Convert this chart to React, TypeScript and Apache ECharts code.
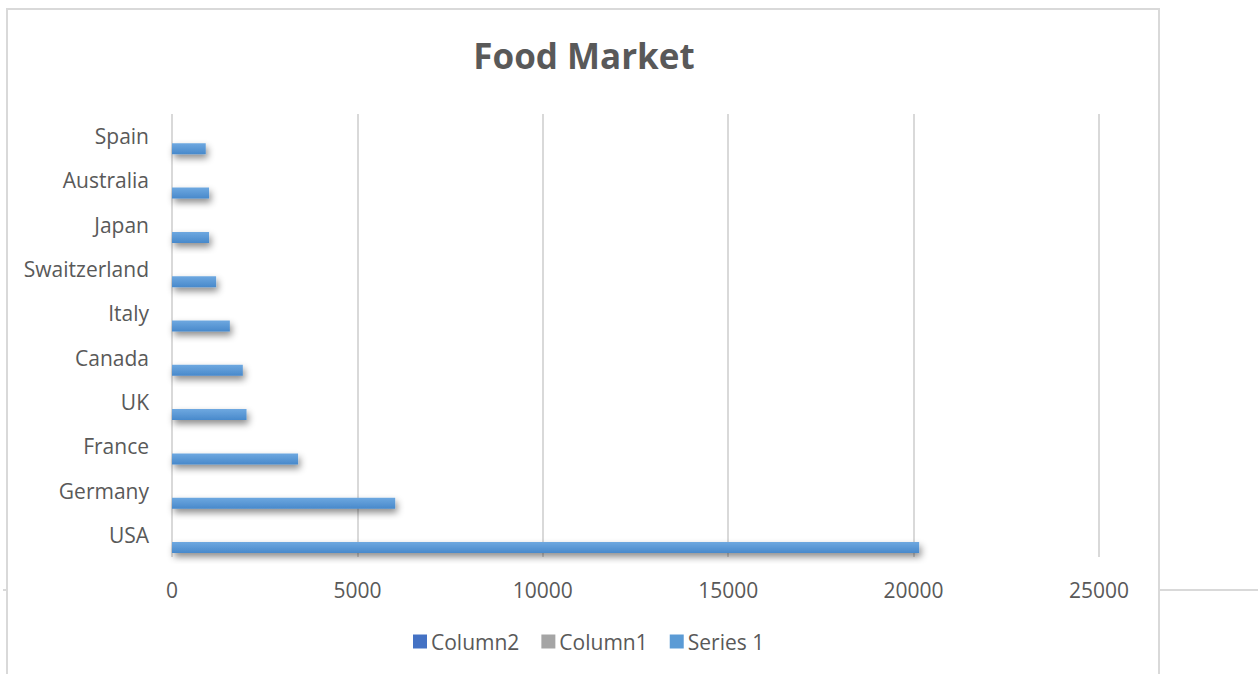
import React, { useEffect, useRef } from "react";
import * as echarts from "echarts";

const categories = ["USA", "Germany", "France", "UK", "Canada", "Italy", "Swaitzerland", "Japan", "Australia", "Spain"];
const series1Values = [20150, 6020, 3400, 2010, 1910, 1560, 1190, 1000, 1000, 910];
const column1Values: (number | null)[] = [null, null, null, null, null, null, null, null, null, null];
const column2Values: (number | null)[] = [null, null, null, null, null, null, null, null, null, null];
const xTicks = { min: 0, max: 25000, interval: 5000 };
const legendNames = ["Column2", "Column1", "Series 1"];

const FONT = "'Open Sans', 'Noto Sans', sans-serif";
const TEXT = "#595959";

export default function App() {
  const ref = useRef<HTMLDivElement>(null);
  useEffect(() => {
    if (!ref.current) return;
    const chart = echarts.init(ref.current, undefined, { renderer: "svg" });
    chart.setOption({
      animation: false,
      backgroundColor: "#ffffff",
      textStyle: { fontFamily: FONT },
      title: {
        text: "Food Market",
        left: 579,
        textAlign: "center",
        top: 33,
        textStyle: { fontFamily: FONT, fontSize: 35, fontWeight: "bold", color: TEXT },
      },
      legend: {
        left: 408,
        top: 626,
        itemWidth: 14,
        itemHeight: 14,
        itemGap: 22,
        icon: "rect",
        textStyle: { fontFamily: FONT, fontSize: 21, color: TEXT, padding: [0, 0, 0, -1] },
        data: [
          { name: legendNames[0], itemStyle: { color: "#4472c4" } },
          { name: legendNames[1], itemStyle: { color: "#a5a5a5" } },
          { name: legendNames[2], itemStyle: { color: "#5b9bd5", shadowBlur: 0, shadowOffsetX: 0, shadowOffsetY: 0 } },
        ],
      },
      grid: { left: 172, right: 159, top: 114, bottom: 117, containLabel: false },
      xAxis: {
        type: "value",
        min: xTicks.min,
        max: xTicks.max,
        interval: xTicks.interval,
        axisLine: { show: false },
        axisTick: { show: false },
        splitLine: { show: true, lineStyle: { color: "#d9d9d9", width: 2 } },
        axisLabel: {
          color: TEXT,
          fontSize: 21,
          fontFamily: FONT,
          margin: 22,
          formatter: (v: number) => String(v),
        },
      },
      yAxis: {
        type: "category",
        data: categories,
        axisLine: { show: false },
        axisTick: { show: false },
        splitLine: { show: false },
        axisLabel: { color: TEXT, fontSize: 21, fontFamily: FONT, margin: 23 },
      },
      series: [
        { name: legendNames[0], type: "bar", data: column2Values, barWidth: 11, barGap: "15%", itemStyle: { color: "#4472c4" } },
        { name: legendNames[1], type: "bar", data: column1Values, barWidth: 11, barGap: "15%", itemStyle: { color: "#a5a5a5" } },
        {
          name: legendNames[2],
          type: "bar",
          data: series1Values,
          barWidth: 11,
          barGap: "15%",
          itemStyle: {
            color: new echarts.graphic.LinearGradient(0, 0, 0, 1, [
              { offset: 0, color: "#6ea8e0" },
              { offset: 1, color: "#4889cb" },
            ]),
            shadowBlur: 7,
            shadowColor: "rgba(0,0,0,0.45)",
            shadowOffsetX: 2,
            shadowOffsetY: 4,
          },
        },
      ],
      graphic: [
        {
          type: "rect",
          silent: true,
          shape: { x: 7, y: 9, width: 1152, height: 720 },
          style: { fill: "none", stroke: "#d9d9d9", lineWidth: 2 },
        },
        {
          type: "line",
          silent: true,
          shape: { x1: 1160, y1: 590, x2: 1258, y2: 590 },
          style: { stroke: "#d9d9d9", lineWidth: 2 },
        },
        {
          type: "line",
          silent: true,
          shape: { x1: 3, y1: 590, x2: 7, y2: 590 },
          style: { stroke: "#d9d9d9", lineWidth: 2 },
        },
      ],
    });
    return () => chart.dispose();
  }, []);
  return (
    <div
      ref={ref}
      style={{ position: "fixed", left: 0, top: 0, width: 1258, height: 674, background: "#fff" }}
    />
  );
}
